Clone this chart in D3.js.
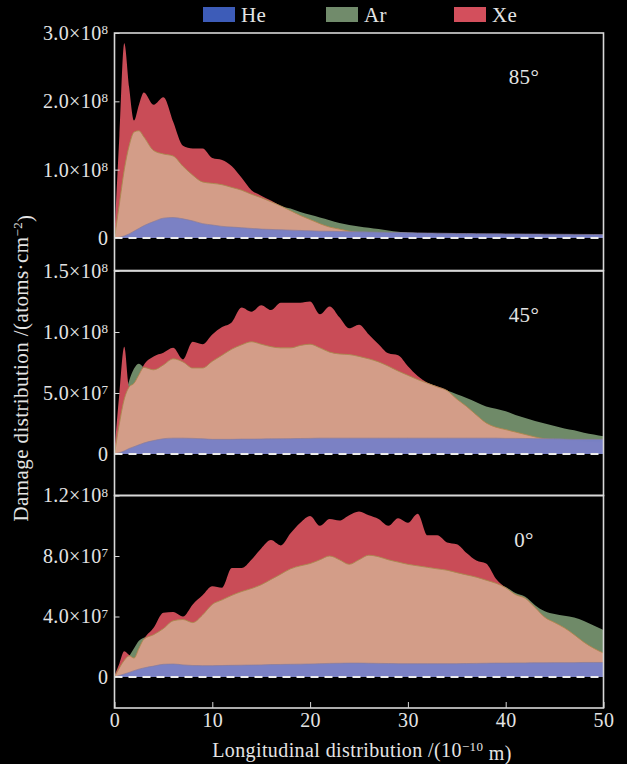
<!DOCTYPE html>
<html>
<head>
<meta charset="utf-8">
<script src="https://cdn.jsdelivr.net/npm/d3@7"></script>
<style>
body { margin: 0; background: #000; }
text { font-family: "Liberation Serif", "DejaVu Serif", serif; fill: #e4e4e4; letter-spacing: 0.4px; }
</style>
</head>
<body>
<svg id="chart" width="627" height="764"></svg>
<script>
// x grid (10^-10 m)
var xs = [0,0.5,1,1.5,2,2.5,3,4,5,6,7,8,9,10,11,12,13,14,15,16,17,18,19,20,21,22,23,24,25,26,27,28,29,30,
          31,32,33,34,35,36,37,38,39,40,41,42,43,44,45,46,47,48,49,50];

// all values in units of 1e7 atoms/cm^2
var he85 = [0,0.1,0.3,0.6,1.0,1.4,1.8,2.4,2.9,3.0,2.8,2.5,2.1,1.9,1.7,1.6,1.5,1.4,1.3,1.25,1.2,1.15,1.1,1.05,1.0,0.98,0.95,0.92,0.9,0.88,0.85,0.82,0.8,0.77,
            0.75,0.72,0.7,0.68,0.66,0.65,0.64,0.63,0.62,0.6,0.6,0.58,0.57,0.56,0.55,0.54,0.53,0.52,0.51,0.5];
var ar85 = [0,5,10,13.5,15.5,15.7,14.8,12.8,12.3,12.0,10.5,9.2,8.2,8.0,7.8,7.4,7.0,6.4,5.9,5.3,4.7,4.3,3.8,3.4,3.0,2.6,2.2,1.9,1.7,1.5,1.3,1.1,0.9,0.8,
            0.7,0.6,0.55,0.5,0.45,0.42,0.4,0.4,0.38,0.37,0.36,0.35,0.34,0.33,0.32,0.32,0.31,0.3,0.3,0.3];
var xe85 = [0.5,15,28.5,22,17.2,19.5,21.3,19.5,20.6,17,13.5,13.1,13.1,11.7,11.4,10.5,8.8,7.0,6.2,5.5,4.7,4.0,3.3,2.7,2.1,1.6,1.3,1.0,0.8,0.6,0.5,0.5,0.45,0.45,
            0.4,0.4,0.4,0.38,0.37,0.36,0.35,0.35,0.34,0.33,0.32,0.32,0.31,0.3,0.3,0.3,0.3,0.3,0.3,0.3];

var he45 = [0,0.1,0.25,0.45,0.6,0.75,0.9,1.1,1.25,1.3,1.3,1.28,1.25,1.2,1.2,1.2,1.22,1.22,1.23,1.24,1.25,1.26,1.27,1.28,1.3,1.3,1.3,1.3,1.3,1.3,1.3,1.3,1.3,1.3,
            1.3,1.3,1.3,1.3,1.3,1.3,1.3,1.3,1.3,1.28,1.28,1.27,1.26,1.25,1.24,1.22,1.2,1.2,1.2,1.2];
var ar45 = [0,2.5,4.5,6.0,7.0,7.4,7.1,6.9,7.3,7.8,7.55,7.05,7.05,7.6,8.1,8.6,8.95,9.2,9.0,8.8,8.7,8.7,8.9,9.0,8.7,8.35,8.2,8.15,8.0,7.8,7.55,7.2,6.8,6.45,
            6.1,5.8,5.5,5.2,4.9,4.6,4.25,3.9,3.7,3.5,3.2,2.95,2.7,2.5,2.3,2.1,1.95,1.75,1.6,1.45];
var xe45 = [0.3,5.0,8.8,5.5,5.8,6.5,7.3,8.0,8.3,8.7,7.75,9.2,9.0,9.8,10.4,10.8,12.0,11.65,12.2,11.8,12.4,12.4,12.4,12.5,11.45,12.1,11.2,10.3,10.6,9.8,9.0,8.25,8.1,7.2,
            6.4,5.85,5.55,5.2,4.5,3.9,3.2,2.55,2.2,2.0,1.8,1.6,1.4,1.25,1.2,1.15,1.1,1.05,1.0,1.0];

var he0 = [0,0.1,0.2,0.3,0.42,0.52,0.6,0.72,0.84,0.86,0.8,0.76,0.75,0.75,0.76,0.77,0.78,0.79,0.8,0.82,0.83,0.84,0.85,0.86,0.88,0.9,0.91,0.92,0.92,0.91,0.9,0.89,0.88,0.88,
           0.88,0.88,0.88,0.88,0.88,0.89,0.9,0.91,0.92,0.92,0.93,0.93,0.94,0.94,0.95,0.95,0.95,0.96,0.96,0.96];
var ar0 = [0,0.6,1.1,1.4,1.9,2.4,2.6,2.8,3.2,3.72,3.8,3.6,4.1,4.8,5.1,5.4,5.65,5.85,6.1,6.45,6.8,7.15,7.35,7.5,7.75,8.0,7.75,7.45,7.75,8.05,7.95,7.75,7.6,7.45,
           7.35,7.25,7.15,7.06,6.9,6.75,6.6,6.4,6.2,5.95,5.55,5.3,4.75,4.35,4.17,4.05,3.93,3.7,3.4,3.1];
var xe0 = [0.1,0.9,1.7,1.45,1.25,1.9,2.5,3.25,4.25,4.3,4.0,4.8,5.4,6.0,5.9,7.2,7.2,7.75,8.5,9.05,8.7,9.5,10.2,10.65,10.0,10.45,10.35,10.7,10.95,10.7,10.45,10.0,10.5,10.2,
           10.8,9.37,9.37,8.9,8.78,8.2,7.7,7.5,6.5,5.9,5.45,5.2,4.6,3.95,3.6,3.25,2.8,2.3,1.9,1.58];

var angles = ["85°", "45°", "0°"];
var yMax = [30, 15, 12];
var yTicks = [[0, 10, 20, 30], [0, 5, 10, 15], [0, 4, 8, 12]];
var yTickLabels = [["0", "1.0×10|8", "2.0×10|8", "3.0×10|8"],
                   ["0", "5.0×10|7", "1.0×10|8", "1.5×10|8"],
                   ["0", "4.0×10|7", "8.0×10|7", "1.2×10|8"]];
var xTicks = [0, 10, 20, 30, 40, 50];
var legendNames = ["He", "Ar", "Xe"];
var legendColors = ["#3d5cb8", "#718b6b", "#d34f5c"];

var panels = [
  { he: he85, ar: ar85, xe: xe85, top: 33, zero: 238, bottom: 270.5 },
  { he: he45, ar: ar45, xe: xe45, top: 271, zero: 454, bottom: 495.5 },
  { he: he0,  ar: ar0,  xe: xe0,  top: 495.5, zero: 677, bottom: 708 }
];

var svg = d3.select("#chart");
svg.append("rect").attr("width", 627).attr("height", 764).attr("fill", "#000");

var left = 114.5, right = 603.5;
var x = d3.scaleLinear().domain([0, 50]).range([left, right]);

function supText(sel, str, supSize) {
  var parts = str.split("|");
  sel.text(null);
  sel.append("tspan").text(parts[0]);
  if (parts.length > 1) {
    sel.append("tspan").attr("dy", "-0.45em").attr("font-size", supSize).text(parts[1]);
  }
}

panels.forEach(function(p, k) {
  var y = d3.scaleLinear().domain([0, yMax[k]]).range([p.zero, p.top]);
  var g = svg.append("g");

  g.append("clipPath").attr("id", "clip" + k)
    .append("rect").attr("x", left).attr("y", p.top).attr("width", right - left).attr("height", p.bottom - p.top);

  var area = d3.area()
    .x(function(d, i) { return x(xs[i]); })
    .y0(y(0))
    .y1(function(d) { return y(d); })
    .curve(d3.curveMonotoneX);
  var line = d3.line()
    .x(function(d, i) { return x(xs[i]); })
    .y(function(d) { return y(d); })
    .curve(d3.curveMonotoneX);

  var both = p.xe.map(function(v, i) { return Math.min(v, p.ar[i]); });

  var plot = g.append("g").attr("clip-path", "url(#clip" + k + ")");
  plot.append("path").attr("d", area(p.ar)).attr("fill", "#6f8a68");
  plot.append("path").attr("d", area(p.xe)).attr("fill", "#c94c57");
  plot.append("path").attr("d", area(both)).attr("fill", "#d39d88");
  plot.append("path").attr("d", line(both)).attr("fill", "none").attr("stroke", "#a98a4e").attr("stroke-width", 0.9);
  plot.append("path").attr("d", area(p.he)).attr("fill", "#7880c6").attr("fill-opacity", 0.97);
  plot.append("path").attr("d", line(p.he)).attr("fill", "none").attr("stroke", "#8a7d9a").attr("stroke-width", 0.7);

  // dashed zero line
  g.append("line")
    .attr("x1", left).attr("x2", right)
    .attr("y1", y(0)).attr("y2", y(0))
    .attr("stroke", "#ececec").attr("stroke-width", 2)
    .attr("stroke-dasharray", "8,6");

  // y axis
  var ax = g.append("g").attr("transform", "translate(" + left + ",0)")
    .call(d3.axisLeft(y).tickValues(yTicks[k]).tickSize(-5).tickPadding(6));
  ax.select(".domain").remove();
  ax.selectAll(".tick line").attr("stroke", "#d8d8d8");
  ax.selectAll(".tick text")
    .attr("font-size", 20)
    .attr("font-family", "Liberation Serif, DejaVu Serif, serif")
    .attr("fill", "#e4e4e4")
    .each(function(d, i) { supText(d3.select(this), yTickLabels[k][i], 13); });

  // frame
  g.append("rect")
    .attr("x", left).attr("y", p.top)
    .attr("width", right - left).attr("height", p.bottom - p.top)
    .attr("fill", "none").attr("stroke", "#d8d8d8").attr("stroke-width", 1.6);

  g.append("text")
    .attr("x", 524).attr("y", p.top + 51)
    .attr("text-anchor", "middle")
    .attr("font-size", 21)
    .text(angles[k]);

  if (k === 2) {
    var xa = g.append("g").attr("transform", "translate(0," + p.bottom + ")")
      .call(d3.axisBottom(x).tickValues(xTicks).tickSize(-6).tickPadding(5));
    xa.select(".domain").remove();
    xa.selectAll(".tick line").attr("stroke", "#d8d8d8");
    xa.selectAll(".tick text")
      .attr("font-size", 20)
      .attr("font-family", "Liberation Serif, DejaVu Serif, serif")
      .attr("fill", "#e4e4e4");
  }
});

// axis titles
var xt = svg.append("text").attr("x", 362).attr("y", 757).attr("text-anchor", "middle").attr("font-size", 20);
xt.append("tspan").text("Longitudinal distribution /(10");
xt.append("tspan").attr("dy", "-0.45em").attr("font-size", 13).text("−10");
xt.append("tspan").attr("dy", "0.45em").text(" m)");

var yt = svg.append("text").attr("transform", "translate(28,368) rotate(-90)").attr("text-anchor", "middle").attr("font-size", 21);
yt.append("tspan").text("Damage distribution /(atoms·cm");
yt.append("tspan").attr("dy", "-0.45em").attr("font-size", 13).text("−2");
yt.append("tspan").attr("dy", "0.45em").text(")");

// legend
var legendX = [203, 326, 454];
var lg = svg.append("g").selectAll("g").data(legendNames).join("g")
  .attr("transform", function(d, i) { return "translate(" + legendX[i] + ",7)"; });
lg.append("rect").attr("width", 32).attr("height", 15)
  .attr("fill", function(d, i) { return legendColors[i]; });
lg.append("text").attr("x", 38).attr("y", 15).attr("font-size", 21).text(function(d) { return d; });
</script>
</body>
</html>
